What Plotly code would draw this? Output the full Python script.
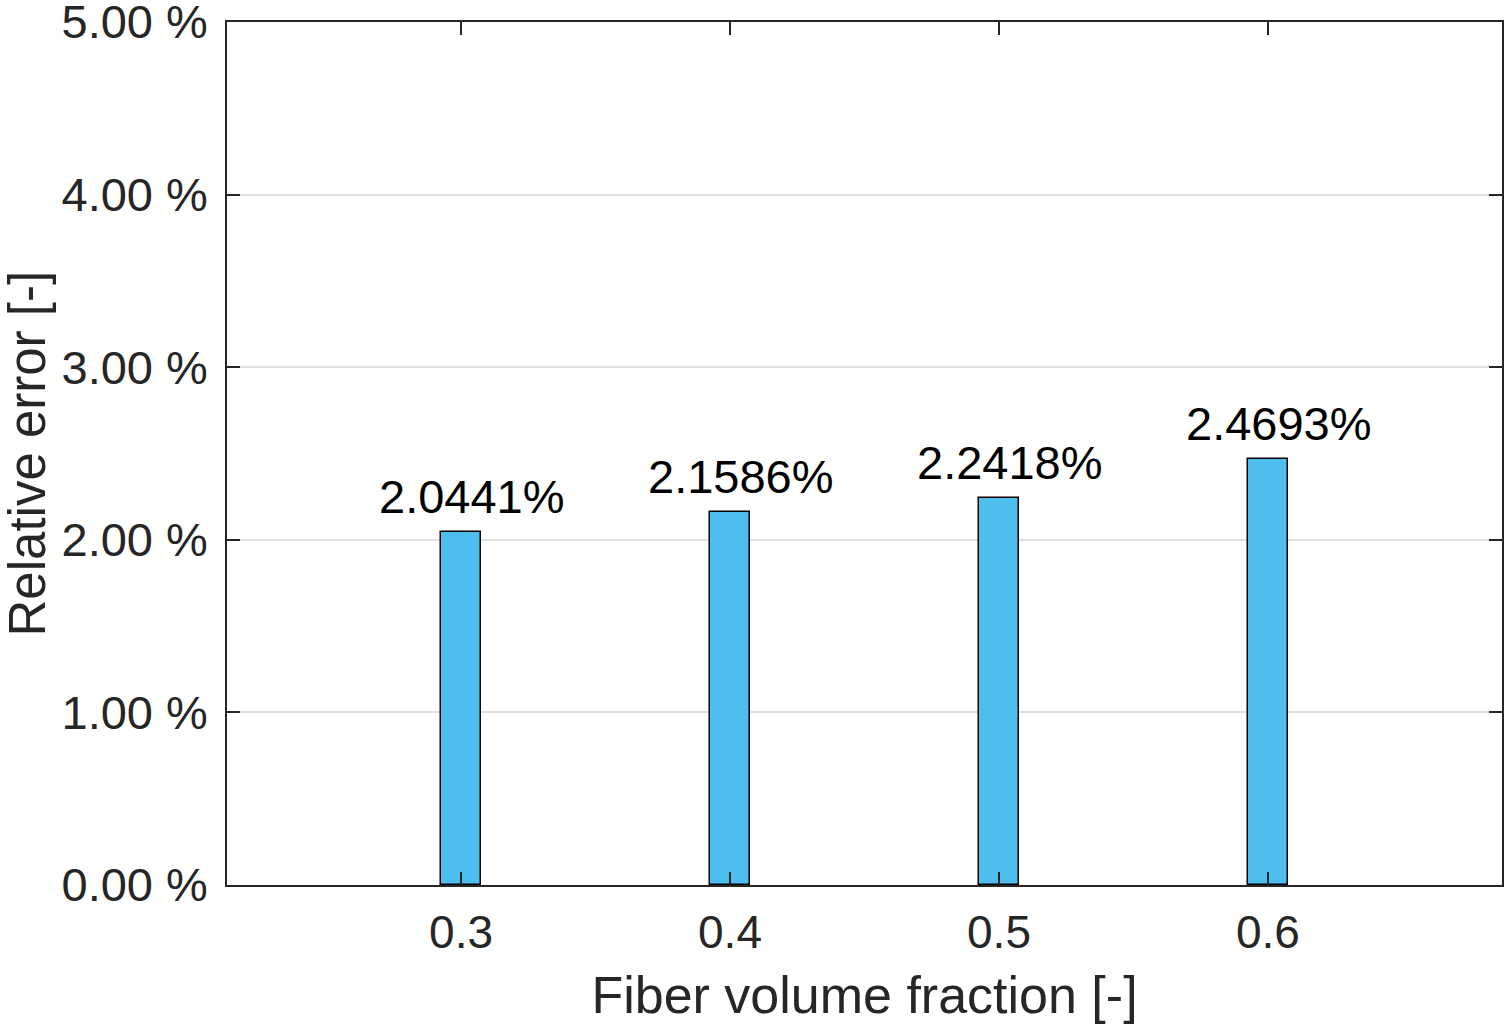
import plotly.graph_objects as go

fractions = [0.3, 0.4, 0.5, 0.6]
errors = [2.0441, 2.1586, 2.2418, 2.4693]
labels = ["2.0441%", "2.1586%", "2.2418%", "2.4693%"]
y_ticks = [0, 1, 2, 3, 4, 5]
y_ticktext = [f"{v:.2f} %" for v in y_ticks]
x_ticktext = ["0.3", "0.4", "0.5", "0.6"]
x_title = "Fiber volume fraction [-]"
y_title = "Relative error [-]"

font_family = "Liberation Sans, Arial, sans-serif"

fig = go.Figure()
fig.add_trace(go.Bar(
    x=fractions, y=errors, width=0.0152,
    marker=dict(color="#4DBEEE", line=dict(color="black", width=1.5)),
    showlegend=False,
))

for xv, yv, t in zip(fractions, errors, labels):
    fig.add_annotation(x=xv, y=yv, text=t, showarrow=False,
                       xanchor="center", yanchor="bottom", xshift=11, yshift=7,
                       font=dict(size=47, color="black", family=font_family))

# y-axis title placed as a rotated annotation
fig.add_annotation(xref="paper", yref="paper", x=0, y=0.5, text=y_title,
                   showarrow=False, textangle=-90, xanchor="center", yanchor="middle",
                   xshift=-200, font=dict(size=51, color="#262626", family=font_family))

fig.update_layout(
    width=1508, height=1031,
    margin=dict(l=227, r=6, t=22, b=146),
    paper_bgcolor="white", plot_bgcolor="white",
    font=dict(family=font_family, color="#262626"),
    bargap=0,
)
fig.update_xaxes(
    range=[0.213, 0.687], tickvals=fractions, ticktext=x_ticktext,
    ticks="inside", ticklen=13, tickwidth=1.5, tickcolor="#262626",
    showline=True, linecolor="#262626", linewidth=1.5, mirror="allticks",
    showgrid=False, zeroline=False, ticklabelstandoff=6, automargin=False,
    tickfont=dict(size=46, color="#262626"),
    title=dict(text=x_title, font=dict(size=52, color="#262626"), standoff=20),
)
fig.update_yaxes(
    range=[0, 5], tickvals=y_ticks, ticktext=y_ticktext,
    ticks="inside", ticklen=13, tickwidth=1.5, tickcolor="#262626",
    showline=True, linecolor="#262626", linewidth=1.5, mirror="allticks",
    showgrid=True, gridcolor="#e0e0e0", gridwidth=1.5, zeroline=False,
    ticklabelstandoff=8, ticklabeloverflow="allow", automargin=False,
    tickfont=dict(size=47, color="#262626"),
)

fig.write_html("out.html", config={"displayModeBar": False},
               post_script="document.body.style.margin='0';")
